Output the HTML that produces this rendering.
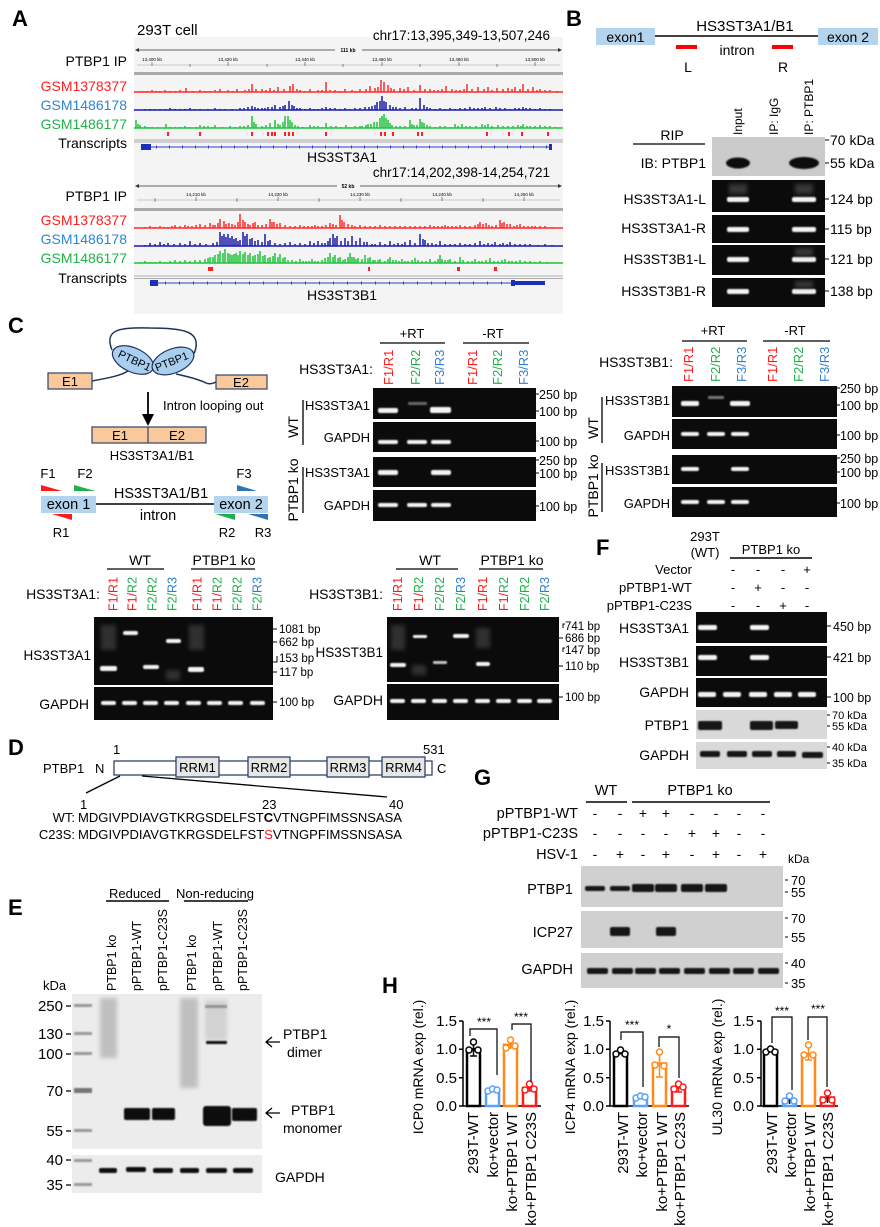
<!DOCTYPE html>
<html><head><meta charset="utf-8"><style>
html,body{margin:0;padding:0;background:#fff}
svg{display:block}
text{font-family:"Liberation Sans",Arial,sans-serif;fill:#000}
</style></head><body>
<svg width="880" height="1227" viewBox="0 0 880 1227" xmlns="http://www.w3.org/2000/svg">
<defs>
<filter id="bl" x="-20%" y="-100%" width="140%" height="300%"><feGaussianBlur stdDeviation="0.9"/></filter>
<filter id="bl2" x="-30%" y="-30%" width="160%" height="160%"><feGaussianBlur stdDeviation="2"/></filter>
</defs>
<rect width="880" height="1227" fill="#fff"/>

<!-- ================= PANEL A ================= -->
<text x="12" y="26" font-size="22" font-weight="bold">A</text>
<rect x="134" y="37" width="429" height="277" fill="#f4f4f4"/>
<text x="137" y="35" font-size="15">293T cell</text>
<text x="550" y="40" font-size="13.5" text-anchor="end">chr17:13,395,349-13,507,246</text>
<g stroke="#333" stroke-width="0.8">
<line x1="137" y1="50" x2="335" y2="50"/><line x1="362" y1="50" x2="560" y2="50"/>
<line x1="137" y1="65" x2="560" y2="65" stroke="#bbb"/>
</g>
<path d="M135 50l4-2v4zM562 50l-4-2v4z" fill="#333"/>
<text x="348" y="52" font-size="5" font-weight="bold" text-anchor="middle">111 kb</text>
<g font-size="4.5" fill="#555" text-anchor="middle">
<text x="152" y="61">13,400 kb</text><text x="228" y="61">13,420 kb</text><text x="305" y="61">13,440 kb</text><text x="382" y="61">13,460 kb</text><text x="459" y="61">13,480 kb</text><text x="535" y="61">13,500 kb</text>
</g>
<path d="M152 62v4M190 64v3M228 62v4M267 64v3M305 62v4M343 64v3M382 62v4M420 64v3M459 62v4M497 64v3M535 62v4" stroke="#444" stroke-width="0.6"/>
<rect x="134" y="72" width="429" height="3" fill="#aaa"/>
<g font-size="14" text-anchor="end">
<text x="127" y="66">PTBP1 IP</text>
<text x="127" y="91" style="fill:#ff2020">GSM1378377</text>
<text x="127" y="110" style="fill:#2a86d6">GSM1486178</text>
<text x="127" y="129" style="fill:#1fb14a">GSM1486177</text>
<text x="127" y="148">Transcripts</text>
</g>
<path fill="none" stroke="#ff2a2a" stroke-width="1.5" d="M134 92H563M142 92v-1M147 92v-1M152 92v-2M156 92v-1M160 92v-1M165 92v-2M170 92v-1M175 92v-1M180 92v-2M186 92v-4M193 92v-1M200 92v-2M205 92v-1M210 92v-1M215 92v-2M220 92v-3M228 92v-2M233 92v-1M237 92v-3M245 92v-2M249 92v-3M252 92v-8M256 92v-3M262 92v-3M266 92v-2M270 92v-4M274 92v-2M278 92v-5M284 92v-3M290 92v-6M293 92v-8M297 92v-3M300 92v-2M305 92v-1M310 92v-3M318 92v-2M322 92v-2M326 92v-10M330 92v-2M335 92v-2M340 92v-1M345 92v-3M352 92v-2M356 92v-1M360 92v-3M366 92v-3M370 92v-6M375 92v-4M378 92v-5M381 92v-12M384 92v-10M388 92v-7M391 92v-4M394 92v-3M400 92v-4M404 92v-3M408 92v-5M414 92v-2M420 92v-7M425 92v-3M430 92v-3M434 92v-2M438 92v-2M442 92v-3M446 92v-6M452 92v-3M456 92v-2M460 92v-2M464 92v-3M467 92v-8M472 92v-3M478 92v-5M484 92v-3M488 92v-5M492 92v-2M497 92v-4M503 92v-3M508 92v-4M512 92v-3M515 92v-5M520 92v-3M523 92v-8M528 92v-3M533 92v-5M537 92v-2M540 92v-3M545 92v-2M550 92v-2M557 92v-1"/>
<path fill="none" stroke="#1a1aa8" stroke-width="1.5" d="M134 110H563M145 110v-1M150 110v-1M155 110v-1M160 110v-1M165 110v-1M170 110v-2M175 110v-1M180 110v-1M185 110v-1M190 110v-2M195 110v-1M200 110v-1M208 110v-1M215 110v-2M220 110v-1M225 110v-1M232 110v-1M240 110v-2M244 110v-2M248 110v-3M252 110v-4M255 110v-3M258 110v-2M262 110v-2M265 110v-2M268 110v-3M272 110v-3M275 110v-5M280 110v-3M283 110v-4M285 110v-5M289 110v-9M292 110v-5M294 110v-4M297 110v-2M300 110v-2M305 110v-1M310 110v-2M314 110v-1M318 110v-1M322 110v-2M326 110v-3M330 110v-2M335 110v-2M340 110v-1M345 110v-2M350 110v-1M355 110v-2M360 110v-2M365 110v-3M369 110v-3M372 110v-4M375 110v-5M377 110v-8M380 110v-9M382 110v-14M384 110v-9M386 110v-8M390 110v-5M393 110v-3M396 110v-3M400 110v-2M405 110v-3M412 110v-2M416 110v-2M420 110v-12M424 110v-5M427 110v-3M430 110v-2M435 110v-1M440 110v-2M445 110v-1M450 110v-2M455 110v-1M460 110v-2M465 110v-2M470 110v-3M474 110v-2M478 110v-2M482 110v-2M485 110v-3M490 110v-2M496 110v-3M500 110v-2M505 110v-2M510 110v-1M515 110v-2M519 110v-2M523 110v-3M526 110v-2M530 110v-2M535 110v-1M540 110v-2M545 110v-1M550 110v-1"/>
<path fill="none" stroke="#1ec33c" stroke-width="1.5" d="M134 128H563M136 128v-8M138 128v-4M140 128v-3M145 128v-2M148 128v-1M152 128v-1M158 128v-1M166 128v-4M170 128v-1M175 128v-1M180 128v-1M185 128v-2M190 128v-1M196 128v-1M200 128v-3M204 128v-2M208 128v-2M212 128v-1M215 128v-3M222 128v-1M230 128v-2M235 128v-1M240 128v-2M244 128v-2M248 128v-3M252 128v-12M254 128v-6M256 128v-4M262 128v-2M266 128v-3M270 128v-5M275 128v-8M278 128v-4M280 128v-3M283 128v-6M285 128v-12M288 128v-12M290 128v-8M292 128v-6M295 128v-3M298 128v-2M303 128v-1M310 128v-3M314 128v-2M318 128v-2M322 128v-1M326 128v-5M331 128v-2M336 128v-2M341 128v-1M346 128v-3M350 128v-1M355 128v-2M360 128v-2M362 128v-2M366 128v-3M368 128v-4M371 128v-4M374 128v-6M377 128v-6M380 128v-10M382 128v-12M384 128v-14M386 128v-10M388 128v-8M390 128v-5M392 128v-3M396 128v-2M400 128v-2M405 128v-2M410 128v-8M412 128v-4M414 128v-3M417 128v-3M420 128v-9M422 128v-6M424 128v-5M427 128v-3M430 128v-2M435 128v-1M440 128v-2M445 128v-2M450 128v-1M455 128v-4M458 128v-2M462 128v-4M466 128v-2M470 128v-2M476 128v-2M482 128v-4M485 128v-3M488 128v-4M492 128v-2M498 128v-3M503 128v-2M508 128v-2M513 128v-2M518 128v-3M521 128v-2M523 128v-4M527 128v-2M530 128v-2M535 128v-2M540 128v-3M545 128v-2M550 128v-2M555 128v-1"/>
<path stroke="#ff2020" stroke-width="2" d="M168 132v4M200 132v4M252 132v4M268 132v4M272 132v4M275 132v4M285 132v4M289 132v4M293 132v4M326 132v4M381 132v4M385 132v4M393 132v4M418 132v4M422 132v4M487 132v4M509 132v4M522 132v4M548 132v4"/>
<rect x="134" y="139" width="429" height="4" fill="#cfcfcf"/>
<line x1="141" y1="147" x2="551" y2="147" stroke="#2b3fc4" stroke-width="1"/>
<line x1="156" y1="147" x2="551" y2="147" stroke="#2b3fc4" stroke-width="3" stroke-dasharray="1 12"/>
<rect x="141" y="144" width="10" height="6" fill="#1c2fb8"/>
<rect x="549" y="144" width="3" height="6" fill="#1c2fb8"/>
<text x="342" y="162" font-size="14" text-anchor="middle">HS3ST3A1</text>

<text x="550" y="177" font-size="13.5" text-anchor="end">chr17:14,202,398-14,254,721</text>
<g stroke="#333" stroke-width="0.8">
<line x1="137" y1="186" x2="337" y2="186"/><line x1="360" y1="186" x2="560" y2="186"/>
<line x1="137" y1="200" x2="560" y2="200" stroke="#bbb"/>
</g>
<path d="M135 186l4-2v4zM562 186l-4-2v4z" fill="#333"/>
<text x="348" y="188" font-size="5" font-weight="bold" text-anchor="middle">52 kb</text>
<g font-size="4.5" fill="#555" text-anchor="middle">
<text x="196" y="196">14,210 kb</text><text x="278" y="196">14,220 kb</text><text x="360" y="196">14,230 kb</text><text x="442" y="196">14,240 kb</text><text x="524" y="196">14,250 kb</text>
</g>
<path d="M155 198v4M196 197v4M237 198v4M278 197v4M319 198v4M360 197v4M401 198v4M442 197v4M483 198v4M524 197v4" stroke="#444" stroke-width="0.6"/>
<rect x="134" y="208" width="429" height="3" fill="#aaa"/>
<g font-size="14" text-anchor="end">
<text x="127" y="201">PTBP1 IP</text>
<text x="127" y="225" style="fill:#ff2020">GSM1378377</text>
<text x="127" y="244" style="fill:#2a86d6">GSM1486178</text>
<text x="127" y="263" style="fill:#1fb14a">GSM1486177</text>
<text x="127" y="283">Transcripts</text>
</g>
<path fill="none" stroke="#ff2a2a" stroke-width="1.5" d="M134 228H563M145 228v-1M150 228v-2M155 228v-1M160 228v-2M164 228v-1M168 228v-1M172 228v-2M175 228v-3M180 228v-2M185 228v-3M188 228v-2M192 228v-2M196 228v-3M200 228v-4M205 228v-3M210 228v-5M213 228v-3M215 228v-3M218 228v-5M220 228v-9M224 228v-7M226 228v-4M229 228v-5M232 228v-4M235 228v-3M238 228v-6M240 228v-14M243 228v-8M245 228v-6M248 228v-4M250 228v-3M253 228v-5M255 228v-6M258 228v-3M262 228v-3M266 228v-4M270 228v-9M272 228v-6M274 228v-6M277 228v-4M280 228v-5M285 228v-3M290 228v-2M295 228v-2M300 228v-3M304 228v-2M308 228v-2M312 228v-2M315 228v-3M318 228v-2M322 228v-2M326 228v-3M330 228v-5M333 228v-4M336 228v-3M340 228v-13M342 228v-8M344 228v-6M348 228v-4M352 228v-3M355 228v-2M360 228v-3M365 228v-2M370 228v-2M375 228v-2M380 228v-3M385 228v-2M390 228v-2M395 228v-2M400 228v-2M405 228v-2M410 228v-2M415 228v-2M420 228v-2M425 228v-2M430 228v-3M434 228v-2M438 228v-2M442 228v-2M445 228v-3M448 228v-2M452 228v-2M456 228v-2M460 228v-3M465 228v-2M470 228v-2M475 228v-3M478 228v-4M480 228v-6M483 228v-4M486 228v-5M489 228v-3M492 228v-2M496 228v-3M500 228v-8M502 228v-5M504 228v-6M507 228v-4M510 228v-4M514 228v-2M517 228v-3M520 228v-4M524 228v-2M528 228v-2M532 228v-2M535 228v-2M540 228v-2M545 228v-2M552 228v-1"/>
<path fill="none" stroke="#1a1aa8" stroke-width="1.5" d="M134 246H563M145 246v-1M150 246v-3M155 246v-2M160 246v-4M164 246v-2M168 246v-3M174 246v-2M180 246v-3M185 246v-2M190 246v-5M195 246v-2M200 246v-3M206 246v-2M213 246v-3M217 246v-4M220 246v-14M222 246v-10M224 246v-12M226 246v-9M228 246v-12M230 246v-8M232 246v-10M234 246v-7M236 246v-8M238 246v-5M240 246v-6M243 246v-14M245 246v-10M247 246v-12M250 246v-7M252 246v-8M255 246v-5M258 246v-6M262 246v-4M265 246v-12M268 246v-5M270 246v-6M275 246v-3M280 246v-2M285 246v-3M290 246v-4M295 246v-2M300 246v-3M305 246v-2M310 246v-5M314 246v-3M318 246v-5M322 246v-3M325 246v-3M328 246v-5M330 246v-8M333 246v-12M335 246v-8M337 246v-10M341 246v-5M345 246v-8M348 246v-5M352 246v-10M356 246v-5M360 246v-8M364 246v-4M367 246v-4M372 246v-2M375 246v-2M380 246v-4M385 246v-2M390 246v-5M394 246v-2M398 246v-3M402 246v-2M405 246v-4M410 246v-6M415 246v-3M420 246v-12M423 246v-7M425 246v-6M428 246v-3M432 246v-3M436 246v-2M440 246v-5M445 246v-2M450 246v-2M455 246v-2M460 246v-3M465 246v-2M470 246v-2M475 246v-3M480 246v-5M484 246v-2M488 246v-3M492 246v-2M495 246v-4M500 246v-2M503 246v-3M507 246v-2M510 246v-4M515 246v-2M520 246v-2M525 246v-2M530 246v-2M538 246v-1M545 246v-2M552 246v-1"/>
<path fill="none" stroke="#1ec33c" stroke-width="1.5" d="M134 263H563M140 263v-1M145 263v-2M150 263v-1M155 263v-1M160 263v-2M165 263v-1M170 263v-2M175 263v-3M180 263v-2M185 263v-3M190 263v-2M195 263v-3M200 263v-3M205 263v-4M208 263v-5M210 263v-6M213 263v-6M215 263v-8M218 263v-9M220 263v-12M223 263v-10M225 263v-14M228 263v-10M230 263v-9M232 263v-8M234 263v-9M236 263v-10M238 263v-8M240 263v-12M243 263v-9M245 263v-11M248 263v-8M250 263v-10M253 263v-7M255 263v-8M258 263v-9M260 263v-12M263 263v-7M265 263v-8M268 263v-5M270 263v-6M273 263v-7M275 263v-10M278 263v-6M280 263v-9M283 263v-5M285 263v-6M288 263v-3M292 263v-3M296 263v-2M300 263v-4M303 263v-2M306 263v-2M309 263v-2M312 263v-4M315 263v-2M318 263v-2M322 263v-3M325 263v-5M328 263v-6M330 263v-10M333 263v-6M335 263v-8M338 263v-5M340 263v-6M343 263v-3M345 263v-4M348 263v-6M350 263v-10M352 263v-6M354 263v-6M356 263v-4M358 263v-5M362 263v-4M365 263v-8M368 263v-5M370 263v-6M373 263v-3M375 263v-3M378 263v-3M380 263v-4M385 263v-2M388 263v-4M390 263v-6M393 263v-3M396 263v-3M399 263v-2M402 263v-4M405 263v-2M408 263v-2M412 263v-3M415 263v-5M418 263v-3M422 263v-2M426 263v-2M430 263v-4M435 263v-2M438 263v-4M440 263v-8M442 263v-4M445 263v-3M448 263v-3M450 263v-4M455 263v-2M460 263v-6M463 263v-3M468 263v-2M472 263v-2M475 263v-4M479 263v-2M482 263v-2M486 263v-3M490 263v-5M494 263v-2M498 263v-2M502 263v-3M505 263v-4M509 263v-2M512 263v-2M516 263v-2M520 263v-3M525 263v-2M530 263v-2M535 263v-1M540 263v-2M547 263v-1"/>
<g fill="#ff2020"><rect x="208" y="267" width="5" height="4"/><rect x="368" y="267" width="2" height="4"/><rect x="457" y="267" width="3" height="4"/><rect x="494" y="267" width="3" height="4"/></g>
<line x1="134" y1="276" x2="563" y2="276" stroke="#999" stroke-width="0.8"/>
<line x1="134" y1="278.5" x2="563" y2="278.5" stroke="#999" stroke-width="0.8"/>
<line x1="150" y1="283" x2="545" y2="283" stroke="#2b3fc4" stroke-width="1"/>
<line x1="165" y1="283" x2="510" y2="283" stroke="#2b3fc4" stroke-width="3" stroke-dasharray="1 13"/>
<rect x="150" y="280" width="8" height="6" fill="#1c2fb8"/>
<rect x="511" y="280" width="4" height="6" fill="#1c2fb8"/>
<rect x="515" y="281" width="30" height="4" fill="#1c2fb8"/>
<text x="342" y="300" font-size="14" text-anchor="middle">HS3ST3B1</text>

<!-- ================= PANEL B ================= -->
<text x="566" y="26" font-size="22" font-weight="bold">B</text>
<rect x="596" y="28" width="59" height="17" fill="#b4d4ee"/>
<rect x="818" y="28" width="60" height="17" fill="#b4d4ee"/>
<text x="625.5" y="42" font-size="14" text-anchor="middle">exon1</text>
<text x="848" y="42" font-size="14" text-anchor="middle">exon 2</text>
<line x1="655" y1="36" x2="818" y2="36" stroke="#000" stroke-width="1.5"/>
<text x="745" y="31" font-size="15" text-anchor="middle">HS3ST3A1/B1</text>
<rect x="676" y="45" width="21" height="4" fill="#ff0000"/>
<rect x="772" y="45" width="21" height="4" fill="#ff0000"/>
<text x="737" y="55" font-size="14" text-anchor="middle">intron</text>
<text x="688" y="72" font-size="14" text-anchor="middle">L</text>
<text x="783" y="72" font-size="14" text-anchor="middle">R</text>
<g font-size="12">
<text transform="translate(742,135) rotate(-90)">Input</text>
<text transform="translate(778,135) rotate(-90)">IP: IgG</text>
<text transform="translate(813,135) rotate(-90)">IP: PTBP1</text>
</g>
<text x="672" y="140" font-size="14" text-anchor="middle">RIP</text>
<line x1="633" y1="144" x2="705" y2="144" stroke="#000" stroke-width="1.2"/>
<rect x="712" y="137" width="113" height="39" fill="#cbcbcb"/>
<ellipse cx="738" cy="163" rx="12" ry="5.5" fill="#0e0e0e" filter="url(#bl)"/>
<ellipse cx="804" cy="163" rx="15" ry="6" fill="#0e0e0e" filter="url(#bl)"/>
<g font-size="14" text-anchor="end">
<text x="706" y="168">IB: PTBP1</text>
<text x="706" y="204">HS3ST3A1-L</text>
<text x="706" y="233">HS3ST3A1-R</text>
<text x="706" y="264">HS3ST3B1-L</text>
<text x="706" y="296">HS3ST3B1-R</text>
</g>
<g fill="#0b0b0b">
<rect x="712" y="180" width="113" height="32"/>
<rect x="712" y="215" width="113" height="28"/>
<rect x="712" y="245" width="113" height="30"/>
<rect x="712" y="278" width="113" height="29"/>
</g>
<g fill="#f4f4f4" filter="url(#bl)">
<rect x="727" y="197" width="22" height="5" rx="2"/><rect x="792" y="197" width="24" height="5" rx="2"/>
<rect x="727" y="227" width="22" height="5" rx="2"/><rect x="792" y="227" width="24" height="5" rx="2"/>
<rect x="727" y="257" width="22" height="5" rx="2"/><rect x="792" y="257" width="24" height="5" rx="2"/>
<rect x="727" y="289" width="22" height="5" rx="2"/><rect x="792" y="289" width="24" height="5" rx="2"/>
</g>
<g fill="#555" filter="url(#bl2)" opacity="0.6">
<rect x="729" y="184" width="18" height="10"/><rect x="795" y="184" width="18" height="10"/>
<rect x="795" y="248" width="18" height="8"/><rect x="795" y="281" width="18" height="7"/>
</g>
<g stroke="#000" stroke-width="1"><path d="M825 140h4M825 163h4M825 199h4M825 229h4M825 259h4M825 291h4"/></g>
<g font-size="14">
<text x="830" y="145">70 kDa</text><text x="830" y="168">55 kDa</text>
<text x="830" y="204">124 bp</text><text x="830" y="234">115 bp</text>
<text x="830" y="264">121 bp</text><text x="830" y="296">138 bp</text>
</g>

<!-- ================= PANEL C ================= -->
<text x="8" y="333" font-size="22" font-weight="bold">C</text>
<path d="M112 350 C104 330 118 327 150 328 C185 328 198 332 196 347 C195 355 190 358 184 360" fill="none" stroke="#1f3358" stroke-width="1.5"/>
<path d="M92 381 C108 378 120 376 128 371" fill="none" stroke="#1f3358" stroke-width="1.5"/>
<path d="M176 374 C190 377 200 380 206 383 C210 385 214 383 216 382" fill="none" stroke="#1f3358" stroke-width="1.5"/>
<ellipse cx="133" cy="360" rx="22" ry="12" transform="rotate(25 133 360)" fill="#a8cff0" stroke="#1f3358" stroke-width="1.2"/>
<ellipse cx="173" cy="361" rx="22" ry="12" transform="rotate(-22 173 361)" fill="#a8cff0" stroke="#1f3358" stroke-width="1.2"/>
<text transform="translate(133,364) rotate(25)" font-size="11" text-anchor="middle">PTBP1</text>
<text transform="translate(173,365) rotate(-22)" font-size="11" text-anchor="middle">PTBP1</text>
<rect x="48" y="373" width="44" height="16" fill="#f9c89b" stroke="#2f4468" stroke-width="1.2"/>
<rect x="216" y="375" width="51" height="14" fill="#f9c89b" stroke="#2f4468" stroke-width="1.2"/>
<text x="70" y="386" font-size="13" text-anchor="middle">E1</text>
<text x="241" y="387" font-size="13" text-anchor="middle">E2</text>
<line x1="148" y1="392" x2="148" y2="416" stroke="#000" stroke-width="1.8"/>
<path d="M142 414 L154 414 L148 426 Z" fill="#000"/>
<text x="163" y="410" font-size="13">Intron looping out</text>
<rect x="92" y="427" width="114" height="16" fill="#f9c89b" stroke="#2f4468" stroke-width="1.2"/>
<line x1="148" y1="427" x2="148" y2="443" stroke="#2f4468" stroke-width="1.2"/>
<text x="120" y="440" font-size="13" text-anchor="middle">E1</text>
<text x="177" y="440" font-size="13" text-anchor="middle">E2</text>
<text x="152" y="460" font-size="13" text-anchor="middle">HS3ST3A1/B1</text>
<g font-size="13" text-anchor="middle">
<text x="48" y="478">F1</text><text x="85" y="478">F2</text><text x="244" y="478">F3</text>
<text x="61" y="537">R1</text><text x="227" y="537">R2</text><text x="263" y="537">R3</text>
</g>
<path d="M41 485 L62 491 L41 491 Z" fill="#ff1a1a"/>
<path d="M74 485 L95 491 L74 491 Z" fill="#1eb04a"/>
<path d="M237 485 L257 491 L237 491 Z" fill="#2e75b6"/>
<path d="M52 514 L72 514 L72 520 Z" fill="#ff1a1a"/>
<path d="M215 514 L235 514 L235 520 Z" fill="#1eb04a"/>
<path d="M248 514 L268 514 L268 520 Z" fill="#2e75b6"/>
<rect x="41" y="496" width="55" height="17" fill="#b4d4ee"/>
<rect x="214" y="496" width="54" height="17" fill="#b4d4ee"/>
<text x="68.5" y="509" font-size="14.5" text-anchor="middle">exon 1</text>
<text x="241" y="509" font-size="14.5" text-anchor="middle">exon 2</text>
<line x1="96" y1="504" x2="214" y2="504" stroke="#000" stroke-width="1.5"/>
<text x="161" y="498" font-size="14.5" text-anchor="middle">HS3ST3A1/B1</text>
<text x="158" y="520" font-size="14.5" text-anchor="middle">intron</text>

<!-- C top middle -->
<text x="412" y="338" font-size="13" text-anchor="middle">+RT</text>
<text x="493" y="338" font-size="13" text-anchor="middle">-RT</text>
<path d="M380 343H445M463 343H529" stroke="#000" stroke-width="1.3"/>
<text x="373" y="374" font-size="14" text-anchor="end">HS3ST3A1:</text>
<g font-size="13">
<text transform="translate(393,385) rotate(-90)" style="fill:#ff1a1a">F1/R1</text>
<text transform="translate(420,385) rotate(-90)" style="fill:#1eb04a">F2/R2</text>
<text transform="translate(444,385) rotate(-90)" style="fill:#2e7fd0">F3/R3</text>
<text transform="translate(477,385) rotate(-90)" style="fill:#ff1a1a">F1/R1</text>
<text transform="translate(502,385) rotate(-90)" style="fill:#1eb04a">F2/R2</text>
<text transform="translate(528,385) rotate(-90)" style="fill:#2e7fd0">F3/R3</text>
</g>
<g fill="#0b0b0b">
<rect x="373" y="388" width="163" height="31"/><rect x="373" y="422" width="163" height="30"/>
<rect x="373" y="457" width="163" height="30"/><rect x="373" y="490" width="163" height="31"/>
</g>
<g fill="#f4f4f4" filter="url(#bl)">
<rect x="378" y="408" width="20" height="5" rx="2"/><rect x="430" y="407" width="21" height="6" rx="2"/>
<rect x="408" y="402" width="19" height="3" rx="1" opacity="0.4"/>
<rect x="378" y="440" width="20" height="4" rx="2"/><rect x="407" y="440" width="20" height="4" rx="2"/><rect x="431" y="440" width="20" height="4" rx="2"/>
<rect x="378" y="470" width="20" height="5" rx="2"/><rect x="431" y="470" width="20" height="5" rx="2"/>
<rect x="378" y="503" width="20" height="4" rx="2"/><rect x="407" y="503" width="20" height="4" rx="2"/><rect x="431" y="503" width="20" height="4" rx="2"/>
</g>
<g font-size="13" text-anchor="end">
<text x="370" y="410">HS3ST3A1</text><text x="370" y="442">GAPDH</text>
<text x="370" y="477">HS3ST3A1</text><text x="370" y="510">GAPDH</text>
</g>
<text transform="translate(298,427) rotate(-90)" font-size="14" text-anchor="middle">WT</text>
<text transform="translate(298,490) rotate(-90)" font-size="14" text-anchor="middle">PTBP1 ko</text>
<path d="M303 400V445M303 467V513" stroke="#000" stroke-width="1.3"/>
<path d="M536 394h3M536 411h3M536 441h3M536 460h3M536 473h3M536 506h3" stroke="#000"/>
<g font-size="12.5">
<text x="539" y="399">250 bp</text><text x="539" y="416">100 bp</text><text x="539" y="446">100 bp</text>
<text x="539" y="465">250 bp</text><text x="539" y="478">100 bp</text><text x="539" y="511">100 bp</text>
</g>

<!-- C top right -->
<text x="713" y="335" font-size="13" text-anchor="middle">+RT</text>
<text x="795" y="335" font-size="13" text-anchor="middle">-RT</text>
<path d="M682 341H747M763 341H830" stroke="#000" stroke-width="1.3"/>
<text x="673" y="367" font-size="14" text-anchor="end">HS3ST3B1:</text>
<g font-size="13">
<text transform="translate(693,382) rotate(-90)" style="fill:#ff1a1a">F1/R1</text>
<text transform="translate(720,382) rotate(-90)" style="fill:#1eb04a">F2/R2</text>
<text transform="translate(746,382) rotate(-90)" style="fill:#2e7fd0">F3/R3</text>
<text transform="translate(777,382) rotate(-90)" style="fill:#ff1a1a">F1/R1</text>
<text transform="translate(803,382) rotate(-90)" style="fill:#1eb04a">F2/R2</text>
<text transform="translate(829,382) rotate(-90)" style="fill:#2e7fd0">F3/R3</text>
</g>
<g fill="#0b0b0b">
<rect x="672" y="386" width="165" height="31"/><rect x="672" y="419" width="165" height="30"/>
<rect x="672" y="455" width="165" height="29"/><rect x="672" y="487" width="165" height="30"/>
</g>
<g fill="#f4f4f4" filter="url(#bl)">
<rect x="681" y="401" width="18" height="5" rx="2"/><rect x="730" y="401" width="20" height="5" rx="2"/>
<rect x="708" y="396" width="16" height="3" rx="1" opacity="0.45"/>
<rect x="681" y="432" width="18" height="4" rx="2"/><rect x="707" y="432" width="18" height="4" rx="2"/><rect x="731" y="432" width="18" height="4" rx="2"/>
<rect x="681" y="467" width="18" height="4" rx="2"/><rect x="731" y="467" width="18" height="4" rx="2"/>
<rect x="681" y="500" width="18" height="4" rx="2"/><rect x="707" y="500" width="18" height="4" rx="2"/><rect x="731" y="500" width="18" height="4" rx="2"/>
</g>
<g font-size="13" text-anchor="end">
<text x="670" y="405">HS3ST3B1</text><text x="670" y="440">GAPDH</text>
<text x="670" y="475">HS3ST3B1</text><text x="670" y="508">GAPDH</text>
</g>
<text transform="translate(598,428) rotate(-90)" font-size="14" text-anchor="middle">WT</text>
<text transform="translate(598,486) rotate(-90)" font-size="14" text-anchor="middle">PTBP1 ko</text>
<path d="M602 397V443M602 463V512" stroke="#000" stroke-width="1.3"/>
<path d="M837 388h3M837 405h3M837 435h3M837 458h3M837 472h3M837 503h3" stroke="#000"/>
<g font-size="12.5">
<text x="840" y="393">250 bp</text><text x="840" y="410">100 bp</text><text x="840" y="440">100 bp</text>
<text x="840" y="463">250 bp</text><text x="840" y="477">100 bp</text><text x="840" y="508">100 bp</text>
</g>

<!-- C bottom left -->
<text x="140" y="565" font-size="14" text-anchor="middle">WT</text>
<text x="224" y="565" font-size="14" text-anchor="middle">PTBP1 ko</text>
<path d="M107 569H164M191 569H255" stroke="#000" stroke-width="1.3"/>
<text x="100" y="599" font-size="14" text-anchor="end">HS3ST3A1:</text>
<g font-size="12.5">
<text transform="translate(117.5,611) rotate(-90)" style="fill:#ff1a1a">F1/R1</text>
<text transform="translate(136.5,611) rotate(-90)"><tspan style="fill:#ff1a1a">F1/</tspan><tspan style="fill:#1eb04a">R2</tspan></text>
<text transform="translate(156.5,611) rotate(-90)" style="fill:#1eb04a">F2/R2</text>
<text transform="translate(176.5,611) rotate(-90)"><tspan style="fill:#1eb04a">F2/</tspan><tspan style="fill:#2e7fd0">R3</tspan></text>
<text transform="translate(201.5,611) rotate(-90)" style="fill:#ff1a1a">F1/R1</text>
<text transform="translate(221.5,611) rotate(-90)"><tspan style="fill:#ff1a1a">F1/</tspan><tspan style="fill:#1eb04a">R2</tspan></text>
<text transform="translate(241.5,611) rotate(-90)" style="fill:#1eb04a">F2/R2</text>
<text transform="translate(261.5,611) rotate(-90)"><tspan style="fill:#1eb04a">F2/</tspan><tspan style="fill:#2e7fd0">R3</tspan></text>
</g>
<rect x="94" y="617" width="179" height="68" fill="#0b0b0b"/>
<rect x="94" y="687" width="179" height="33" fill="#0b0b0b"/>
<g fill="#555" filter="url(#bl2)" opacity="0.5">
<rect x="101" y="625" width="15" height="25"/><rect x="189" y="625" width="15" height="25"/><rect x="166" y="670" width="14" height="10"/>
</g>
<g fill="#f4f4f4" filter="url(#bl)">
<rect x="100" y="666" width="17" height="5" rx="2"/><rect x="123" y="631" width="15" height="4" rx="2"/>
<rect x="143" y="665" width="16" height="4" rx="2"/><rect x="166" y="639" width="15" height="4" rx="2"/>
<rect x="188" y="667" width="16" height="5" rx="2"/>
<rect x="101" y="701" width="15" height="4" rx="2"/><rect x="122" y="701" width="15" height="4" rx="2"/><rect x="143" y="701" width="15" height="4" rx="2"/><rect x="164" y="701" width="15" height="4" rx="2"/>
<rect x="186" y="701" width="15" height="4" rx="2"/><rect x="207" y="701" width="15" height="4" rx="2"/><rect x="228" y="701" width="15" height="4" rx="2"/><rect x="250" y="701" width="15" height="4" rx="2"/>
</g>
<text x="91" y="660" font-size="13.5" text-anchor="end">HS3ST3A1</text>
<text x="89" y="709" font-size="14" text-anchor="end">GAPDH</text>
<path d="M273 629h4M273 642h4M277 656v6h-4M273 672h4M273 702h4" stroke="#000" fill="none"/>
<g font-size="11.5">
<text x="279" y="633">1081 bp</text><text x="279" y="646">662 bp</text><text x="279" y="662">153 bp</text>
<text x="279" y="676">117 bp</text><text x="279" y="706">100 bp</text>
</g>

<!-- C bottom right -->
<text x="430" y="565" font-size="14" text-anchor="middle">WT</text>
<text x="512" y="565" font-size="14" text-anchor="middle">PTBP1 ko</text>
<path d="M396 569H458M479 569H543" stroke="#000" stroke-width="1.3"/>
<text x="383" y="599" font-size="14" text-anchor="end">HS3ST3B1:</text>
<g font-size="12.5">
<text transform="translate(402,611) rotate(-90)" style="fill:#ff1a1a">F1/R1</text>
<text transform="translate(423,611) rotate(-90)"><tspan style="fill:#ff1a1a">F1/</tspan><tspan style="fill:#1eb04a">R2</tspan></text>
<text transform="translate(444,611) rotate(-90)" style="fill:#1eb04a">F2/R2</text>
<text transform="translate(465,611) rotate(-90)"><tspan style="fill:#1eb04a">F2/</tspan><tspan style="fill:#2e7fd0">R3</tspan></text>
<text transform="translate(487,611) rotate(-90)" style="fill:#ff1a1a">F1/R1</text>
<text transform="translate(508,611) rotate(-90)"><tspan style="fill:#ff1a1a">F1/</tspan><tspan style="fill:#1eb04a">R2</tspan></text>
<text transform="translate(529,611) rotate(-90)" style="fill:#1eb04a">F2/R2</text>
<text transform="translate(549,611) rotate(-90)"><tspan style="fill:#1eb04a">F2/</tspan><tspan style="fill:#2e7fd0">R3</tspan></text>
</g>
<rect x="387" y="617" width="172" height="65" fill="#0b0b0b"/>
<rect x="387" y="684" width="172" height="36" fill="#0b0b0b"/>
<g fill="#555" filter="url(#bl2)" opacity="0.5">
<rect x="391" y="625" width="14" height="25"/><rect x="476" y="628" width="14" height="20"/><rect x="412" y="665" width="14" height="10"/>
</g>
<g fill="#f4f4f4" filter="url(#bl)">
<rect x="390" y="663" width="16" height="4" rx="2"/><rect x="413" y="635" width="14" height="3" rx="1"/>
<rect x="433" y="661" width="14" height="3" rx="1" opacity="0.8"/><rect x="453" y="634" width="16" height="4" rx="2"/>
<rect x="476" y="662" width="14" height="4" rx="2"/>
<rect x="390" y="699" width="15" height="4" rx="2"/><rect x="411" y="699" width="15" height="4" rx="2"/><rect x="432" y="699" width="15" height="4" rx="2"/><rect x="453" y="699" width="15" height="4" rx="2"/>
<rect x="475" y="699" width="15" height="4" rx="2"/><rect x="496" y="699" width="15" height="4" rx="2"/><rect x="517" y="699" width="15" height="4" rx="2"/><rect x="537" y="699" width="15" height="4" rx="2"/>
</g>
<text x="383" y="657" font-size="13.5" text-anchor="end">HS3ST3B1</text>
<text x="383" y="705" font-size="14" text-anchor="end">GAPDH</text>
<path d="M563 628v-4h2M559 638h4M563 652v-4h2M559 666h4M559 697h4" stroke="#000" fill="none"/>
<g font-size="11.5">
<text x="565" y="630">741 bp</text><text x="565" y="642">686 bp</text><text x="565" y="654">147 bp</text>
<text x="565" y="670">110 bp</text><text x="565" y="701">100 bp</text>
</g>

<!-- ================= PANEL D ================= -->
<text x="8" y="755" font-size="22" font-weight="bold">D</text>
<text x="113" y="754" font-size="13">1</text>
<text x="423" y="754" font-size="13">531</text>
<text x="43" y="773" font-size="13">PTBP1</text>
<text x="95" y="773" font-size="13">N</text>
<text x="437" y="773" font-size="13">C</text>
<rect x="114" y="761" width="318" height="14" fill="#fff" stroke="#2f4468" stroke-width="1.3"/>
<g fill="#e6e6e6" stroke="#2f4468" stroke-width="1.3">
<rect x="176" y="757" width="43" height="20"/><rect x="248" y="757" width="42" height="20"/>
<rect x="327" y="757" width="42" height="20"/><rect x="382" y="757" width="43" height="20"/>
</g>
<g font-size="13" text-anchor="middle">
<text x="197.5" y="772">RRM1</text><text x="269" y="772">RRM2</text><text x="348" y="772">RRM3</text><text x="403.5" y="772">RRM4</text>
</g>
<path d="M120 776L86 793M142 776L387 797" stroke="#000" stroke-width="1.3"/>
<g font-size="13">
<text x="80" y="809">1</text><text x="262" y="809">23</text><text x="389" y="809">40</text>
</g>
<text x="75" y="822" font-size="13" text-anchor="end">WT:</text>
<text x="78" y="822" font-size="13" textLength="324" lengthAdjust="spacingAndGlyphs">MDGIVPDIAVGTKRGSDELFST<tspan font-weight="bold">C</tspan>VTNGPFIMSSNSASA</text>
<text x="75" y="839" font-size="13" text-anchor="end">C23S:</text>
<text x="78" y="839" font-size="13" textLength="324" lengthAdjust="spacingAndGlyphs">MDGIVPDIAVGTKRGSDELFST<tspan style="fill:#ff1a1a">S</tspan>VTNGPFIMSSNSASA</text>

<!-- ================= PANEL E ================= -->
<text x="8" y="915" font-size="22" font-weight="bold">E</text>
<text x="135" y="898" font-size="13" text-anchor="middle">Reduced</text>
<text x="215" y="898" font-size="13" text-anchor="middle">Non-reducing</text>
<path d="M106 901H169M184 901H248" stroke="#000" stroke-width="1.5"/>
<g font-size="12.5">
<text transform="translate(116,991) rotate(-90)">PTBP1 ko</text>
<text transform="translate(141,991) rotate(-90)">pPTBP1-WT</text>
<text transform="translate(167,991) rotate(-90)">pPTBP1-C23S</text>
<text transform="translate(196,991) rotate(-90)">PTBP1 ko</text>
<text transform="translate(222,991) rotate(-90)">pPTBP1-WT</text>
<text transform="translate(247,991) rotate(-90)">pPTBP1-C23S</text>
</g>
<text x="43" y="990" font-size="13">kDa</text>
<rect x="72" y="994" width="190" height="155" fill="#ececec"/>
<rect x="72" y="1155" width="190" height="38" fill="#ececec"/>
<g fill="#8a8a8a" filter="url(#bl2)" opacity="0.45">
<rect x="100" y="998" width="17" height="60"/><rect x="180" y="998" width="18" height="90"/>
<rect x="205" y="1000" width="22" height="40" opacity="0.6"/>
</g>
<g fill="#777" filter="url(#bl)" opacity="0.7">
<rect x="74" y="1004" width="18" height="3"/><rect x="74" y="1032" width="18" height="3"/><rect x="74" y="1052" width="18" height="3"/>
<rect x="74" y="1088" width="18" height="5" fill="#444"/><rect x="74" y="1129" width="18" height="3"/>
<rect x="74" y="1159" width="18" height="3"/><rect x="74" y="1183" width="18" height="3"/>
<rect x="205" y="1005" width="22" height="3"/>
</g>
<g fill="#0a0a0a" filter="url(#bl)">
<rect x="124" y="1108" width="26" height="12" rx="2"/><rect x="152" y="1108" width="23" height="12" rx="2"/>
<rect x="203" y="1106" width="28" height="20" rx="3"/><rect x="232" y="1108" width="25" height="13" rx="2"/>
<rect x="206" y="1041" width="21" height="3" rx="1"/>
<rect x="99" y="1168" width="18" height="5" rx="2"/><rect x="126" y="1167" width="20" height="5" rx="2"/><rect x="153" y="1168" width="20" height="5" rx="2"/>
<rect x="180" y="1168" width="19" height="5" rx="2"/><rect x="206" y="1168" width="21" height="5" rx="2"/><rect x="233" y="1168" width="20" height="5" rx="2"/>
</g>
<g font-size="15" text-anchor="end">
<text x="63" y="1011">250</text><text x="63" y="1039">130</text><text x="63" y="1059">100</text>
<text x="63" y="1096">70</text><text x="63" y="1136">55</text><text x="63" y="1165">40</text><text x="63" y="1190">35</text>
</g>
<path d="M66 1006h5M66 1034h5M66 1054h5M66 1091h5M66 1131h5M66 1160h5M66 1185h5" stroke="#000" stroke-width="1.2"/>
<path d="M280 1042H266M272 1037L266 1042L272 1047M280 1113H266M272 1108L266 1113L272 1118" fill="none" stroke="#000" stroke-width="1.3"/>
<g font-size="14">
<text x="283" y="1039">PTBP1</text><text x="287" y="1057">dimer</text>
<text x="291" y="1115">PTBP1</text><text x="283" y="1133">monomer</text>
<text x="275" y="1182">GAPDH</text>
</g>

<!-- ================= PANEL F ================= -->
<text x="596" y="555" font-size="22" font-weight="bold">F</text>
<text x="705" y="541" font-size="13" text-anchor="middle">293T</text>
<text x="705" y="557" font-size="13" text-anchor="middle">(WT)</text>
<text x="771" y="554" font-size="13" text-anchor="middle">PTBP1 ko</text>
<path d="M730 558H812" stroke="#000" stroke-width="1.5"/>
<g font-size="13" text-anchor="end">
<text x="692" y="574">Vector</text><text x="692" y="592">pPTBP1-WT</text><text x="692" y="610">pPTBP1-C23S</text>
</g>
<g font-size="13" text-anchor="middle">
<text x="733" y="574">-</text><text x="758" y="574">-</text><text x="783" y="574">-</text><text x="807" y="574">+</text>
<text x="733" y="592">-</text><text x="758" y="592">+</text><text x="783" y="592">-</text><text x="807" y="592">-</text>
<text x="733" y="610">-</text><text x="758" y="610">-</text><text x="783" y="610">+</text><text x="807" y="610">-</text>
</g>
<g fill="#0b0b0b">
<rect x="696" y="612" width="131" height="31"/><rect x="696" y="646" width="131" height="30"/><rect x="696" y="678" width="131" height="29"/>
</g>
<g fill="#f4f4f4" filter="url(#bl)">
<rect x="698" y="625" width="19" height="5" rx="2"/><rect x="750" y="625" width="19" height="5" rx="2"/>
<rect x="698" y="655" width="19" height="5" rx="2"/><rect x="750" y="655" width="19" height="5" rx="2"/>
<rect x="698" y="692" width="18" height="5" rx="2"/><rect x="723" y="692" width="18" height="5" rx="2"/><rect x="749" y="692" width="18" height="5" rx="2"/><rect x="774" y="692" width="18" height="5" rx="2"/><rect x="798" y="692" width="18" height="5" rx="2"/>
</g>
<rect x="696" y="710" width="131" height="29" fill="#d9d9d9"/>
<rect x="696" y="742" width="131" height="27" fill="#d9d9d9"/>
<g fill="#121212" filter="url(#bl)">
<rect x="698" y="721" width="24" height="9" rx="2"/><rect x="750" y="721" width="23" height="9" rx="2"/><rect x="775" y="721" width="23" height="8" rx="2"/>
<rect x="700" y="751" width="20" height="6" rx="2"/><rect x="727" y="751" width="20" height="6" rx="2"/><rect x="752" y="751" width="20" height="6" rx="2"/><rect x="777" y="751" width="19" height="6" rx="2"/><rect x="802" y="752" width="21" height="6" rx="2"/>
</g>
<g font-size="14" text-anchor="end">
<text x="689" y="633">HS3ST3A1</text><text x="689" y="667">HS3ST3B1</text><text x="689" y="697">GAPDH</text>
<text x="689" y="730">PTBP1</text><text x="689" y="760">GAPDH</text>
</g>
<path d="M827 626h4M827 657h4M827 697h4M827 715h3M827 726h3M827 747h3M827 763h3" stroke="#000"/>
<g font-size="12.5">
<text x="833" y="631">450 bp</text><text x="833" y="662">421 bp</text><text x="833" y="702">100 bp</text>
</g>
<g font-size="11">
<text x="832" y="719">70 kDa</text><text x="832" y="730">55 kDa</text><text x="832" y="751">40 kDa</text><text x="832" y="767">35 kDa</text>
</g>

<!-- ================= PANEL G ================= -->
<text x="474" y="785" font-size="22" font-weight="bold">G</text>
<text x="606" y="795" font-size="14.5" text-anchor="middle">WT</text>
<text x="700" y="795" font-size="14.5" text-anchor="middle">PTBP1 ko</text>
<path d="M586 802H627M632 802H770" stroke="#000" stroke-width="1.5"/>
<g font-size="14.5" text-anchor="end">
<text x="578" y="818">pPTBP1-WT</text><text x="578" y="838">pPTBP1-C23S</text><text x="578" y="859">HSV-1</text>
</g>
<g font-size="14" text-anchor="middle">
<text x="595" y="818">-</text><text x="620" y="818">-</text><text x="643" y="818">+</text><text x="666" y="818">+</text><text x="692" y="818">-</text><text x="716" y="818">-</text><text x="739" y="818">-</text><text x="763" y="818">-</text>
<text x="595" y="838">-</text><text x="620" y="838">-</text><text x="643" y="838">-</text><text x="666" y="838">-</text><text x="692" y="838">+</text><text x="716" y="838">+</text><text x="739" y="838">-</text><text x="763" y="838">-</text>
<text x="595" y="859">-</text><text x="620" y="859">+</text><text x="643" y="859">-</text><text x="666" y="859">+</text><text x="692" y="859">-</text><text x="716" y="859">+</text><text x="739" y="859">-</text><text x="763" y="859">+</text>
</g>
<text x="788" y="863" font-size="12">kDa</text>
<rect x="581" y="866" width="202" height="41" fill="#d0d0d0"/>
<rect x="581" y="911" width="202" height="37" fill="#d0d0d0"/>
<rect x="581" y="953" width="202" height="35" fill="#d0d0d0"/>
<g fill="#151515" filter="url(#bl)">
<rect x="585" y="886" width="20" height="5" rx="2"/><rect x="610" y="886" width="20" height="5" rx="2"/>
<rect x="632" y="884" width="22" height="8" rx="2"/><rect x="655" y="884" width="22" height="8" rx="2"/><rect x="681" y="884" width="22" height="8" rx="2"/><rect x="705" y="884" width="22" height="8" rx="2"/>
<rect x="610" y="927" width="20" height="9" rx="2"/><rect x="656" y="927" width="20" height="9" rx="2"/>
<rect x="587" y="968" width="21" height="6" rx="2"/><rect x="612" y="968" width="21" height="6" rx="2"/><rect x="635" y="968" width="21" height="6" rx="2"/><rect x="659" y="968" width="21" height="6" rx="2"/>
<rect x="684" y="968" width="21" height="6" rx="2"/><rect x="709" y="968" width="21" height="6" rx="2"/><rect x="733" y="968" width="21" height="6" rx="2"/><rect x="758" y="968" width="21" height="6" rx="2"/>
</g>
<g font-size="14.5" text-anchor="end">
<text x="573" y="894">PTBP1</text><text x="573" y="937">ICP27</text><text x="573" y="974">GAPDH</text>
</g>
<path d="M785 880h3M785 892h3M785 918h3M785 937h3M785 963h3M785 983h3" stroke="#000"/>
<g font-size="13">
<text x="791" y="885">70</text><text x="791" y="897">55</text><text x="791" y="923">70</text><text x="791" y="942">55</text><text x="791" y="968">40</text><text x="791" y="988">35</text>
</g>

<!-- ================= PANEL H ================= -->
<text x="382" y="993" font-size="22" font-weight="bold">H</text>
<!-- chart 1 -->
<text transform="translate(423,1067) rotate(-90)" font-size="14" text-anchor="middle">ICP0 mRNA exp (rel.)</text>
<g font-size="15" text-anchor="end">
<text x="457" y="1026">1.5</text><text x="457" y="1054">1.0</text><text x="457" y="1083">0.5</text><text x="457" y="1111">0.0</text>
</g>
<path d="M463 1021V1106H541M459 1021h4M459 1049.3h4M459 1077.7h4M459 1106h4" fill="none" stroke="#000" stroke-width="1.5"/>
<g fill="#fff" stroke-width="2.5">
<rect x="467" y="1049.3" width="13" height="56.7" stroke="#000"/>
<rect x="486" y="1090.1" width="13" height="15.9" stroke="#5aa2f5"/>
<rect x="504" y="1044.8" width="13" height="61.2" stroke="#ff8a1a"/>
<rect x="523" y="1087.9" width="13" height="18.1" stroke="#ff1a1a"/>
</g>
<g stroke-width="1.5" fill="none">
<path d="M473.5 1056V1042.5M470 1042.5h7M470 1056h7" stroke="#000"/>
<path d="M510.5 1049V1039.7M507 1039.7h7" stroke="#ff8a1a"/>
<path d="M529.5 1091V1083.3M526 1083.3h7M526 1091h7" stroke="#ff1a1a"/>
<circle cx="469" cy="1050" r="3" stroke="#000" fill="#fff"/><circle cx="473.5" cy="1042" r="3" stroke="#000" fill="#fff"/><circle cx="478" cy="1050" r="3" stroke="#000" fill="#fff"/>
<circle cx="488" cy="1091" r="3" stroke="#5aa2f5" fill="#fff"/><circle cx="492.5" cy="1089" r="3" stroke="#5aa2f5" fill="#fff"/><circle cx="497" cy="1090" r="3" stroke="#5aa2f5" fill="#fff"/>
<circle cx="506" cy="1048" r="3" stroke="#ff8a1a" fill="#fff"/><circle cx="510.5" cy="1040" r="3" stroke="#ff8a1a" fill="#fff"/><circle cx="515" cy="1046" r="3" stroke="#ff8a1a" fill="#fff"/>
<circle cx="525" cy="1090" r="3" stroke="#ff1a1a" fill="#fff"/><circle cx="529.5" cy="1084" r="3" stroke="#ff1a1a" fill="#fff"/><circle cx="534" cy="1089" r="3" stroke="#ff1a1a" fill="#fff"/>
<path d="M470 1036V1029H497V1075M512 1030V1024H531V1082" stroke="#000" stroke-width="1.2"/>
</g>
<g font-size="12" text-anchor="middle"><text x="484" y="1026">***</text><text x="521" y="1021">***</text></g>
<g font-size="15" text-anchor="end">
<text transform="translate(478,1112) rotate(-90)">293T-WT</text>
<text transform="translate(498,1112) rotate(-90)">ko+vector</text>
<text transform="translate(517,1112) rotate(-90)">ko+PTBP1 WT</text>
<text transform="translate(536,1112) rotate(-90)">ko+PTBP1 C23S</text>
</g>
<!-- chart 2 -->
<text transform="translate(575,1067) rotate(-90)" font-size="14" text-anchor="middle">ICP4 mRNA exp (rel.)</text>
<g font-size="15" text-anchor="end">
<text x="604" y="1026">1.5</text><text x="604" y="1054">1.0</text><text x="604" y="1083">0.5</text><text x="604" y="1111">0.0</text>
</g>
<path d="M610 1021V1106H689M606 1021h4M606 1049.3h4M606 1077.7h4M606 1106h4" fill="none" stroke="#000" stroke-width="1.5"/>
<g fill="#fff" stroke-width="2.5">
<rect x="614" y="1053.3" width="13" height="52.7" stroke="#000"/>
<rect x="634" y="1097.5" width="13" height="8.5" stroke="#5aa2f5"/>
<rect x="653" y="1063.5" width="13" height="42.5" stroke="#ff8a1a"/>
<rect x="672" y="1087.3" width="13" height="18.7" stroke="#ff1a1a"/>
</g>
<g stroke-width="1.5" fill="none">
<path d="M659.5 1077V1052M656 1052h7M656 1077h7" stroke="#ff8a1a"/>
<path d="M678.5 1092V1083M675 1083h7M675 1092h7" stroke="#ff1a1a"/>
<circle cx="616" cy="1054" r="3" stroke="#000" fill="#fff"/><circle cx="620.5" cy="1050" r="3" stroke="#000" fill="#fff"/><circle cx="625" cy="1054" r="3" stroke="#000" fill="#fff"/>
<circle cx="636" cy="1098" r="3" stroke="#5aa2f5" fill="#fff"/><circle cx="640.5" cy="1096" r="3" stroke="#5aa2f5" fill="#fff"/><circle cx="645" cy="1097" r="3" stroke="#5aa2f5" fill="#fff"/>
<circle cx="655" cy="1065" r="3" stroke="#ff8a1a" fill="#fff"/><circle cx="659.5" cy="1052" r="3" stroke="#ff8a1a" fill="#fff"/><circle cx="664" cy="1066" r="3" stroke="#ff8a1a" fill="#fff"/>
<circle cx="674" cy="1089" r="3" stroke="#ff1a1a" fill="#fff"/><circle cx="678.5" cy="1084" r="3" stroke="#ff1a1a" fill="#fff"/><circle cx="683" cy="1087" r="3" stroke="#ff1a1a" fill="#fff"/>
<path d="M621 1040V1032H643V1087M659 1047V1037H679V1078" stroke="#000" stroke-width="1.2"/>
</g>
<g font-size="12" text-anchor="middle"><text x="632" y="1029">***</text><text x="669" y="1033">*</text></g>
<g font-size="15" text-anchor="end">
<text transform="translate(628,1112) rotate(-90)">293T-WT</text>
<text transform="translate(647,1112) rotate(-90)">ko+vector</text>
<text transform="translate(667,1112) rotate(-90)">ko+PTBP1 WT</text>
<text transform="translate(685,1112) rotate(-90)">ko+PTBP1 C23S</text>
</g>
<!-- chart 3 -->
<text transform="translate(722,1067) rotate(-90)" font-size="14" text-anchor="middle">UL30 mRNA exp (rel.)</text>
<g font-size="15" text-anchor="end">
<text x="754" y="1026">1.5</text><text x="754" y="1054">1.0</text><text x="754" y="1083">0.5</text><text x="754" y="1111">0.0</text>
</g>
<path d="M761 1021V1106H838M757 1021h4M757 1049.3h4M757 1077.7h4M757 1106h4" fill="none" stroke="#000" stroke-width="1.5"/>
<g fill="#fff" stroke-width="2.5">
<rect x="764" y="1051" width="13" height="55" stroke="#000"/>
<rect x="783" y="1100.3" width="13" height="5.7" stroke="#5aa2f5"/>
<rect x="802" y="1053.9" width="13" height="52.1" stroke="#ff8a1a"/>
<rect x="821" y="1097.5" width="13" height="8.5" stroke="#ff1a1a"/>
</g>
<g stroke-width="1.5" fill="none">
<path d="M808.5 1060V1044M805 1044h7M805 1060h7" stroke="#ff8a1a"/>
<path d="M789.5 1104V1095M786 1095h7" stroke="#000"/>
<path d="M827.5 1103V1093M824 1093h7" stroke="#000"/>
<circle cx="766" cy="1052" r="3" stroke="#000" fill="#fff"/><circle cx="770.5" cy="1049" r="3" stroke="#000" fill="#fff"/><circle cx="775" cy="1052" r="3" stroke="#000" fill="#fff"/>
<circle cx="785" cy="1101" r="3" stroke="#5aa2f5" fill="#fff"/><circle cx="789.5" cy="1096" r="3" stroke="#5aa2f5" fill="#fff"/><circle cx="794" cy="1101" r="3" stroke="#5aa2f5" fill="#fff"/>
<circle cx="804" cy="1055" r="3" stroke="#ff8a1a" fill="#fff"/><circle cx="808.5" cy="1045" r="3" stroke="#ff8a1a" fill="#fff"/><circle cx="813" cy="1055" r="3" stroke="#ff8a1a" fill="#fff"/>
<circle cx="823" cy="1100" r="3" stroke="#ff1a1a" fill="#fff"/><circle cx="827.5" cy="1093" r="3" stroke="#ff1a1a" fill="#fff"/><circle cx="832" cy="1100" r="3" stroke="#ff1a1a" fill="#fff"/>
<path d="M772 1043V1017H792V1090M808 1040V1017H827V1087" stroke="#000" stroke-width="1.2"/>
</g>
<g font-size="12" text-anchor="middle"><text x="782" y="1015">***</text><text x="818" y="1013">***</text></g>
<g font-size="15" text-anchor="end">
<text transform="translate(777,1112) rotate(-90)">293T-WT</text>
<text transform="translate(796,1112) rotate(-90)">ko+vector</text>
<text transform="translate(815,1112) rotate(-90)">ko+PTBP1 WT</text>
<text transform="translate(833,1112) rotate(-90)">ko+PTBP1 C23S</text>
</g>
</svg>
</body></html>
